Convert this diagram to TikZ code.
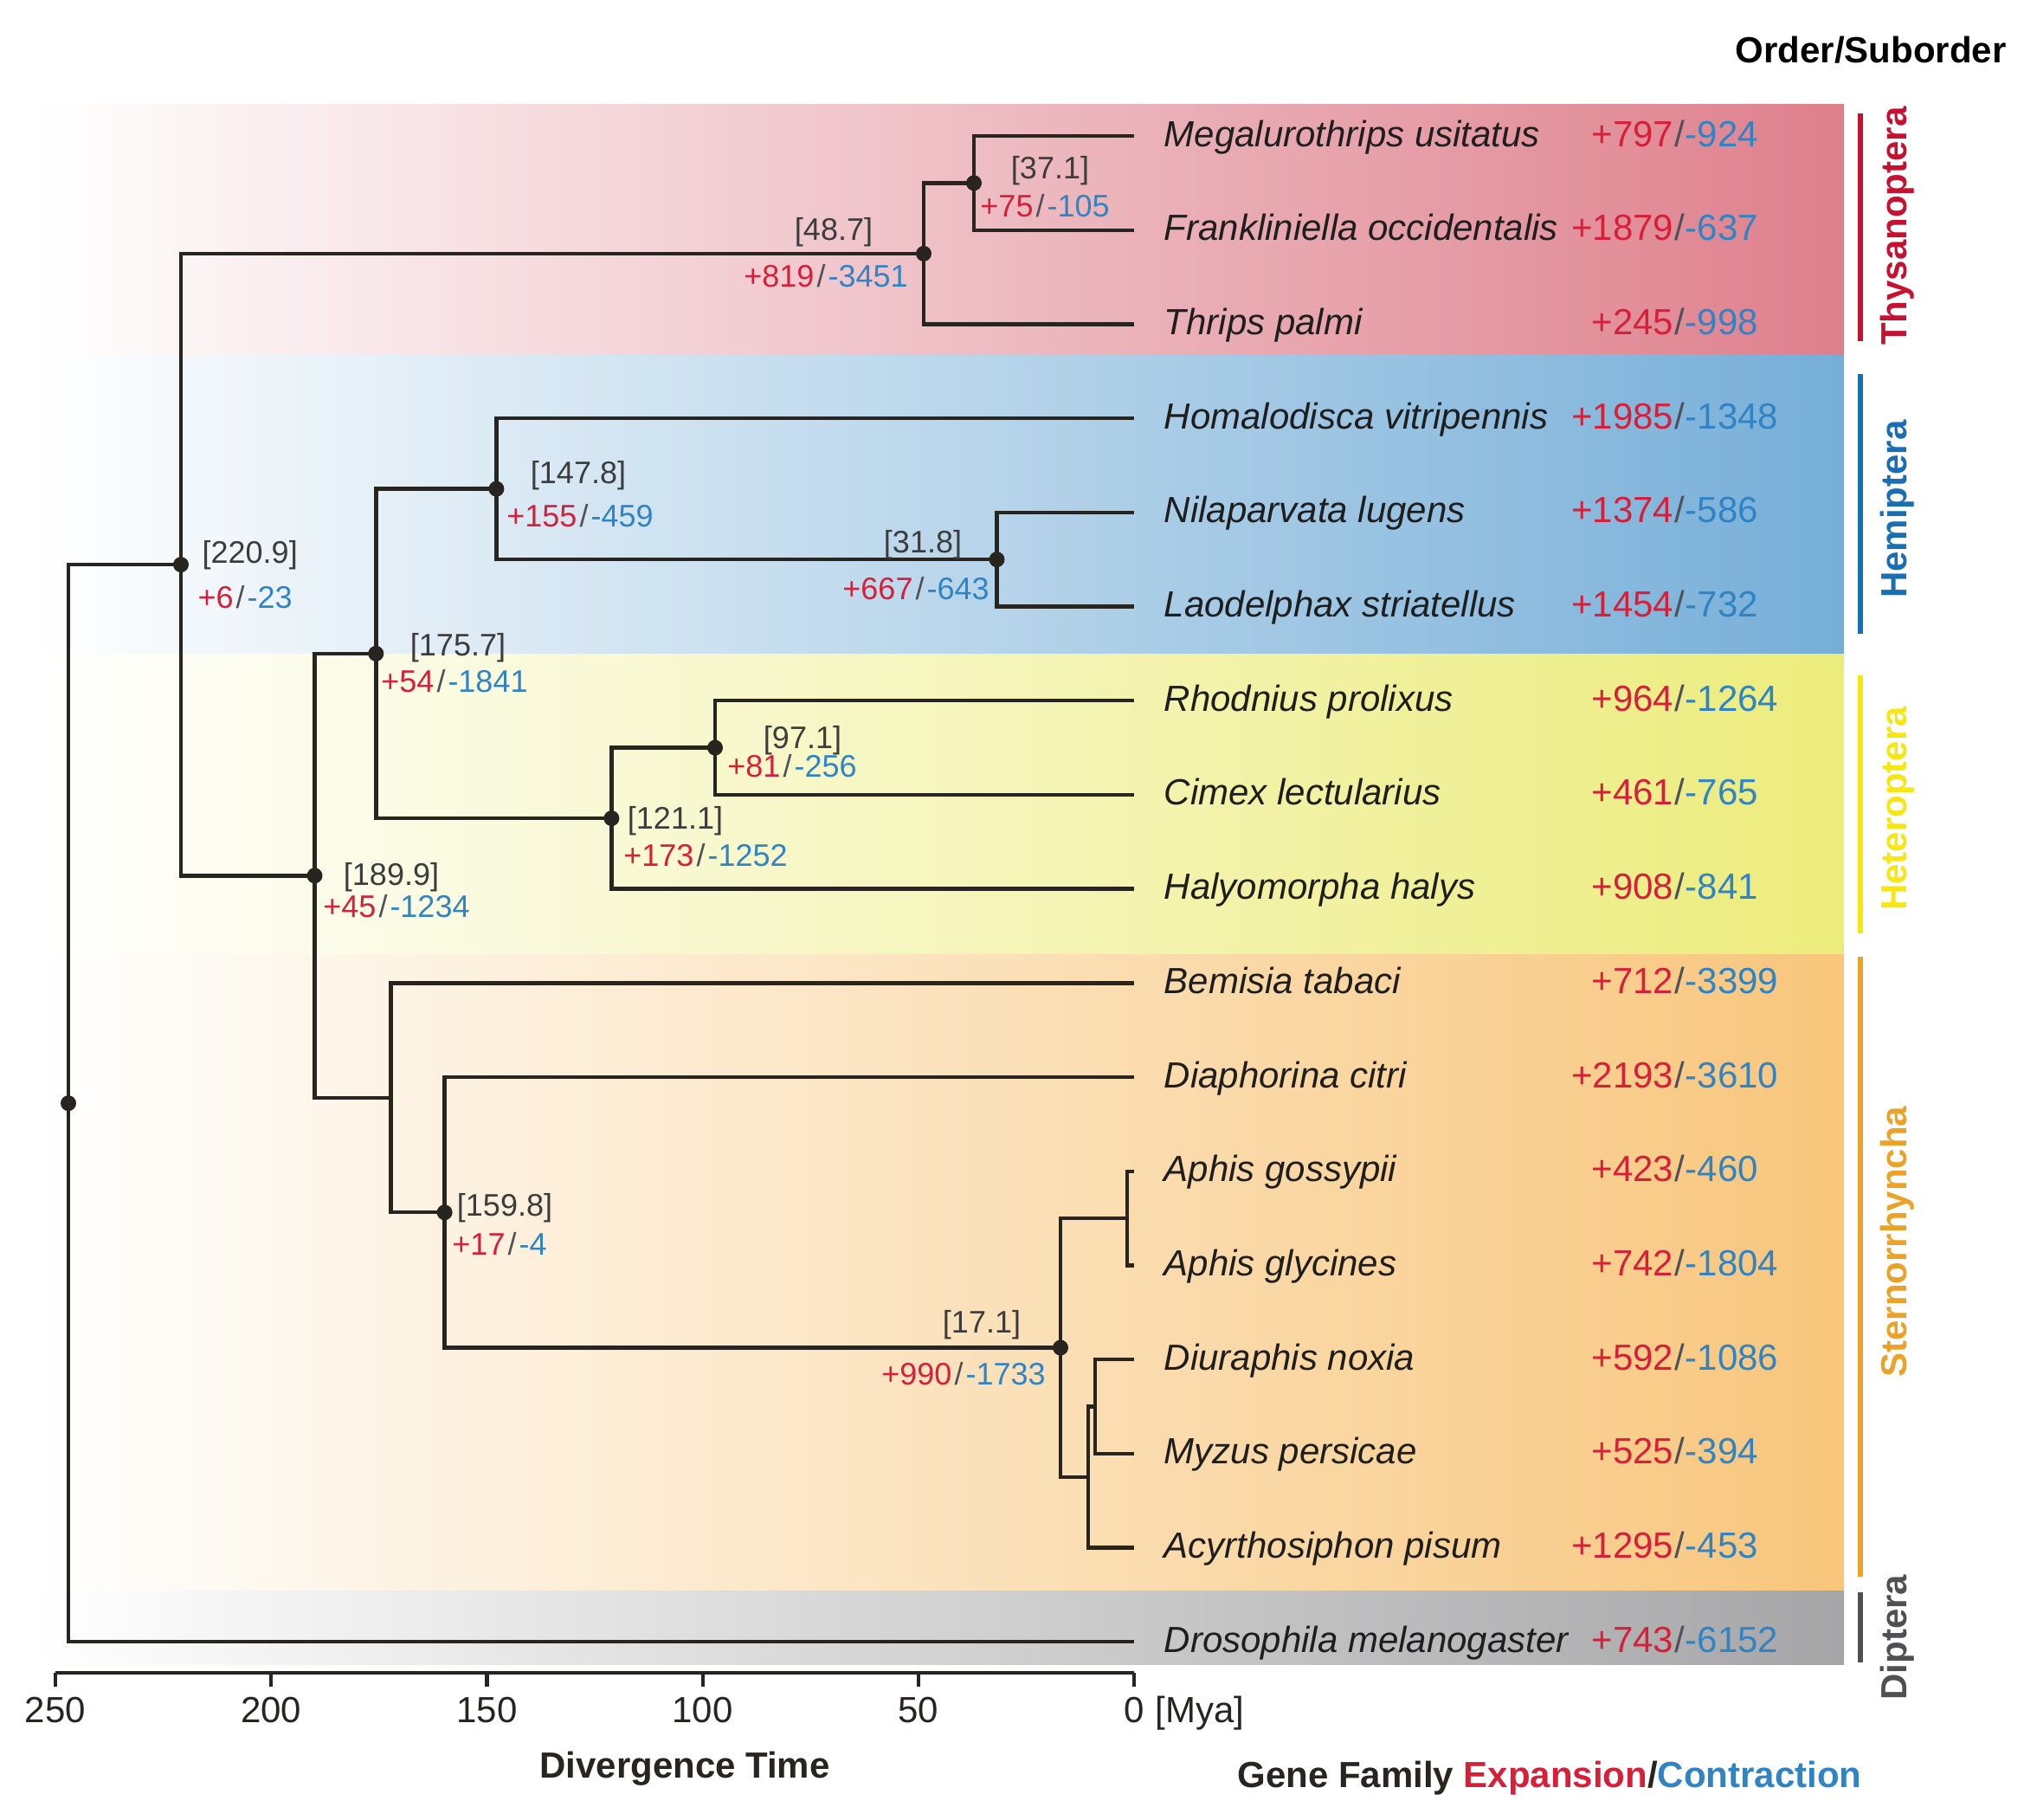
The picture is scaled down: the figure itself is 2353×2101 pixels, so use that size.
\documentclass[tikz,border=0pt]{standalone}
\usepackage{fontspec}
\setmainfont{Liberation Sans}
\definecolor{thyband}{RGB}{222,128,140}
\definecolor{hemband}{RGB}{118,174,216}
\definecolor{hetband}{RGB}{236,236,124}
\definecolor{steband}{RGB}{248,198,124}
\definecolor{dipband}{RGB}{166,166,168}
\definecolor{thyc}{RGB}{196,18,48}
\definecolor{hemc}{RGB}{26,110,180}
\definecolor{hetc}{RGB}{246,230,20}
\definecolor{stec}{RGB}{234,162,40}
\definecolor{dipc}{RGB}{80,80,84}
\definecolor{exc}{RGB}{214,32,58}
\definecolor{coc}{RGB}{48,132,196}
\definecolor{slc}{RGB}{80,80,90}
\definecolor{brc}{RGB}{40,36,32}
\definecolor{spc}{RGB}{30,30,30}
\definecolor{agec}{RGB}{60,60,60}
\newcommand\gfl[2]{{\color{exc}+#1}\kern.3mm{\color{slc}/}\kern.3mm{\color{coc}-#2}}
\begin{document}
\begin{tikzpicture}[x=0.1mm,y=-0.1mm,
  br/.style={line width=1.25pt, draw=brc},
  axisline/.style={line width=1.2pt, draw=brc},
  band/.style={left color=white, right color=#1, draw=none},
  obar/.style={line width=1.7pt, draw=#1},
  olab/.style={font=\fontsize{11.95}{14}\selectfont\bfseries, text=#1, rotate=90, inner sep=0},
  big/.style={font=\fontsize{11.95}{14}\selectfont, inner sep=0, text height=3mm, text depth=0mm},
  spname/.style={big, font=\fontsize{11.95}{14}\selectfont\itshape, text=spc, anchor=west},
  expn/.style={big, text=exc, anchor=east},
  slsh/.style={big, text=slc},
  conn/.style={big, text=coc, anchor=west},
  age/.style={font=\fontsize{10.24}{12}\selectfont, text=agec, inner sep=0, text height=2.58mm, text depth=0mm},
  ttl/.style={font=\fontsize{11.95}{14}\selectfont\bfseries, inner sep=0, text height=3mm, text depth=0mm}
]
\useasboundingbox (0,0) rectangle (2353,2101);
% background bands
\fill[band=thyband] (40,120) rectangle (2130,410);
\fill[band=hemband] (40,410) rectangle (2130,755);
\fill[band=hetband] (40,755) rectangle (2130,1102);
\fill[band=steband] (40,1102) rectangle (2130,1837);
\fill[band=dipband] (40,1837) rectangle (2130,1922);
% order bars
\coordinate (thyA) at (2149,131); \coordinate (thyB) at (2149,394);
\coordinate (hemA) at (2149,432); \coordinate (hemB) at (2149,732);
\coordinate (hetA) at (2149,780); \coordinate (hetB) at (2149,1078);
\coordinate (steA) at (2149,1105); \coordinate (steB) at (2149,1821);
\coordinate (dipA) at (2149,1839); \coordinate (dipB) at (2149,1920);
\draw[obar=thyc] (thyA) -- (thyB);
\draw[obar=hemc] (hemA) -- (hemB);
\draw[obar=hetc] (hetA) -- (hetB);
\draw[obar=stec] (steA) -- (steB);
\draw[obar=dipc] (dipA) -- (dipB);
\node[olab=thyc] (thyL) at (2192,261) {Thysanoptera};
\node[olab=hemc] (hemL) at (2192,588) {Hemiptera};
\node[olab=hetc] (hetL) at (2192,934) {Heteroptera};
\node[olab=stec] (steL) at (2192,1434) {Sternorrhyncha};
\node[olab=dipc] (dipL) at (2192,1891) {Diptera};
\node[ttl] (ordT) at (2161,57) {Order/Suborder};
% tips
\foreach \i/\nm/\e/\c in {0/Megalurothrips usitatus/797/924,
  1/Frankliniella occidentalis/1879/637, 2/Thrips palmi/245/998,
  3/Homalodisca vitripennis/1985/1348, 4/Nilaparvata lugens/1374/586,
  5/Laodelphax striatellus/1454/732, 6/Rhodnius prolixus/964/1264,
  7/Cimex lectularius/461/765, 8/Halyomorpha halys/908/841,
  9/Bemisia tabaci/712/3399, 10/Diaphorina citri/2193/3610,
  11/Aphis gossypii/423/460, 12/Aphis glycines/742/1804,
  13/Diuraphis noxia/592/1086, 14/Myzus persicae/525/394,
  15/Acyrthosiphon pisum/1295/453, 16/Drosophila melanogaster/743/6152}{
  \coordinate (t\i) at (1310,{157+108.7*\i});
  \node[spname] (sp\i) at (1344,{154+108.7*\i}) {\nm};
  \node[expn] (ex\i) at (1934,{154+108.7*\i}) {+\e};
  \node[slsh] (sl\i) at (1940,{154+108.7*\i}) {/};
  \node[conn] (co\i) at (1946,{154+108.7*\i}) {-\c};
}
% internal nodes
\coordinate (n371) at (1125,211.35);
\coordinate (n487) at (1067,292.9);
\coordinate (n318) at (1151.5,646.15);
\coordinate (n1478) at (573.4,564.6);
\coordinate (n971) at (826,863.55);
\coordinate (n1211) at (706.4,945.1);
\coordinate (n1757) at (434.3,754.85);
\coordinate (naphis) at (1302,1407.05);
\coordinate (ndm) at (1265,1624.45);
\coordinate (ndma) at (1257,1706);
\coordinate (n171) at (1225,1556.5);
\coordinate (n1598) at (513.6,1400.25);
\coordinate (n1723) at (451.5,1267.8);
\coordinate (n1899) at (363.5,1011.3);
\coordinate (n2209) at (209,652.1);
\coordinate (root) at (79,1274.15);
% branches
\draw[br] (n371) |- (t0);  \draw[br] (n371) |- (t1);
\draw[br] (n487) |- (n371); \draw[br] (n487) |- (t2);
\draw[br] (n2209) |- (n487); \draw[br] (n2209) |- (n1899);
\draw[br] (n318) |- (t4); \draw[br] (n318) |- (t5);
\draw[br] (n1478) |- (t3); \draw[br] (n1478) |- (n318);
\draw[br] (n971) |- (t6); \draw[br] (n971) |- (t7);
\draw[br] (n1211) |- (n971); \draw[br] (n1211) |- (t8);
\draw[br] (n1757) |- (n1478); \draw[br] (n1757) |- (n1211);
\draw[br] (n1899) |- (n1757); \draw[br] (n1899) |- (n1723);
\draw[br] (n1723) |- (t9); \draw[br] (n1723) |- (n1598);
\draw[br] (n1598) |- (t10); \draw[br] (n1598) |- (n171);
\draw[br] (n171) |- (naphis); \draw[br] (n171) |- (ndma);
\draw[br] (naphis) |- (t11); \draw[br] (naphis) |- (t12);
\draw[br] (ndma) |- (ndm); \draw[br] (ndma) |- (t15);
\draw[br] (ndm) |- (t13); \draw[br] (ndm) |- (t14);
\draw[br] (root) |- (n2209); \draw[br] (root) |- (t16);
% dots
\foreach \n in {root,n2209,n487,n371,n1478,n318,n1757,n1211,n971,n1899,n1598,n171}
  \fill[brc] (\n) circle[radius=0.9mm];
% node labels
\node[age, anchor=west] (a2209) at (233,638) {[220.9]};
\node[age, anchor=west] (g2209) at (228,690) {\gfl{6}{23}};
\node[age] (a487) at (963,265) {[48.7]};
\node[age] (g487) at (954,319) {\gfl{819}{3451}};
\node[age] (a371) at (1213,194) {[37.1]};
\node[age] (g371) at (1207,238) {\gfl{75}{105}};
\node[age] (a1478) at (668,546) {[147.8]};
\node[age] (g1478) at (670,596) {\gfl{155}{459}};
\node[age] (a318) at (1066,626) {[31.8]};
\node[age] (g318) at (1058,680) {\gfl{667}{643}};
\node[age] (a1757) at (529,745) {[175.7]};
\node[age] (g1757) at (525,787) {\gfl{54}{1841}};
\node[age] (a971) at (927,852) {[97.1]};
\node[age] (g971) at (915,885) {\gfl{81}{256}};
\node[age] (a1211) at (780,945) {[121.1]};
\node[age] (g1211) at (815,988) {\gfl{173}{1252}};
\node[age] (a1899) at (452,1010) {[189.9]};
\node[age] (g1899) at (458,1047) {\gfl{45}{1234}};
\node[age] (a1598) at (583,1392) {[159.8]};
\node[age] (g1598) at (577,1437) {\gfl{17}{4}};
\node[age] (a171) at (1134,1527) {[17.1]};
\node[age] (g171) at (1113,1587) {\gfl{990}{1733}};
% axis
\coordinate (ax250) at (64,1932); \coordinate (ax0) at (1310,1932);
\draw[axisline] (ax250) -- (ax0);
\foreach \t in {0,50,100,150,200,250}{
  \draw[axisline] ({1310-4.984*\t},1932) -- ++(0,16);
  \node[big, text=brc] (tk\t) at ({1310-4.984*\t},1974) {\t};
}
\node[big, text=brc, anchor=west] (mya) at (1334,1974) {[Mya]};
\node[ttl, text=brc] (divT) at (791,2038) {Divergence Time};
\node[ttl, text=brc] (gfT) at (1790,2049) {Gene Family {\color{exc}Expansion}/{\color{coc}Contraction}};
\end{tikzpicture}
\end{document}
